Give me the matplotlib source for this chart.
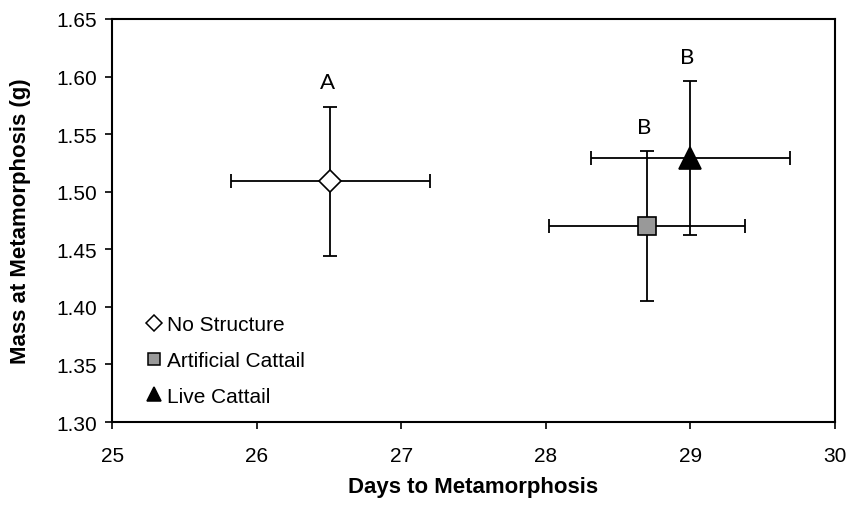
import matplotlib.pyplot as plt
from matplotlib.lines import Line2D

# Treatment means with standard errors
treatments = ['No Structure', 'Artificial Cattail', 'Live Cattail']
days = [26.51, 28.70, 29.00]
days_err = [0.69, 0.68, 0.69]
mass = [1.509, 1.470, 1.529]
mass_err = [0.065, 0.065, 0.067]
letters = ['A', 'B', 'B']

markers = ['D', 's', '^']
face = ['white', '#999999', 'black']
sizes = [11.5, 13.5, 15.5]

plt.rcParams['font.family'] = ['Liberation Sans', 'DejaVu Sans']

fig = plt.figure(figsize=(8.49, 5.06), dpi=100)
ax = fig.add_axes([0.132, 0.164, 0.8515, 0.7965])

for i in range(len(treatments)):
    ax.errorbar(days[i], mass[i], xerr=days_err[i], yerr=mass_err[i],
                fmt='none', ecolor='black', elinewidth=1.3, capsize=5,
                capthick=1.3, zorder=2)
    ax.plot(days[i], mass[i], marker=markers[i], markersize=sizes[i],
            markerfacecolor=face[i], markeredgecolor='black',
            markeredgewidth=1.2, linestyle='none', zorder=3)
    # significance letter above the upper error bar
    ax.text(days[i] - 0.02, mass[i] + mass_err[i] + 0.021, letters[i],
            ha='center', va='center', fontsize=16, family=['Lato', 'DejaVu Sans'])

handles = [Line2D([], [], marker=markers[i], markersize=sizes[i] * 0.68,
                  markerfacecolor=face[i], markeredgecolor='black',
                  markeredgewidth=1.1, linestyle='none')
           for i in range(len(treatments))]
ax.legend(handles, treatments, loc='lower left', bbox_to_anchor=(0.035, 0.02),
          frameon=False, fontsize=15, handlelength=0.8, handletextpad=0.2,
          labelspacing=0.8, borderaxespad=0)

ax.set_xlim(25, 30)
ax.set_ylim(1.30, 1.65)
ax.set_xticks([25, 26, 27, 28, 29, 30])
ax.set_yticks([1.30, 1.35, 1.40, 1.45, 1.50, 1.55, 1.60, 1.65])
ax.set_yticklabels(['%.2f' % v for v in ax.get_yticks()])
ax.tick_params(direction='out', length=5, width=1.2, labelsize=15)
ax.tick_params(axis='x', pad=12)
ax.tick_params(axis='y', pad=6)
for s in ax.spines.values():
    s.set_linewidth(1.5)

ax.set_xlabel('Days to Metamorphosis', fontsize=16, fontweight='bold', labelpad=8)
ax.set_ylabel('Mass at Metamorphosis (g)', fontsize=16, fontweight='bold', labelpad=18)

fig.savefig('out.png', dpi=100)
